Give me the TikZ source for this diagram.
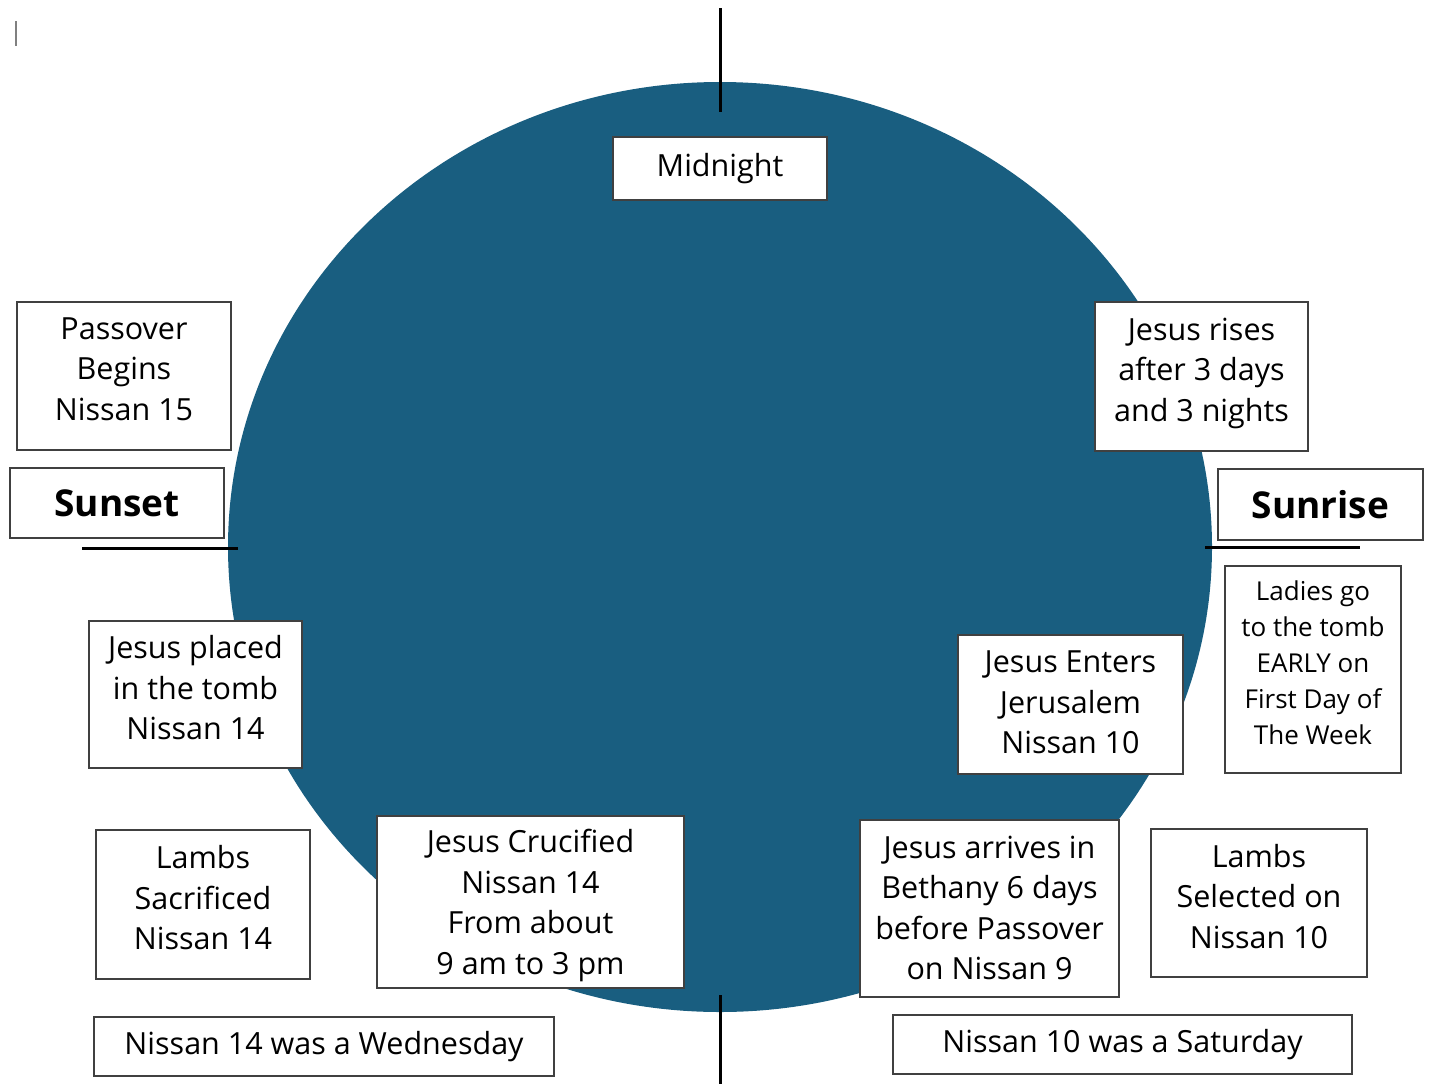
\documentclass[tikz,border=0pt]{standalone}
\usepackage{fontspec}
\setmainfont{Open Sans}
\usepackage{tikz}
\definecolor{dawnblue}{RGB}{25,94,128}
\tikzset{
  box/.style={draw=black!75, fill=white, line width=1.3pt, align=center, inner sep=0pt,
    font=\fontsize{30.5}{40.5}\selectfont},
  lines/.style={box, text depth=14pt},
  bigbox/.style={box, font=\fontsize{37}{40}\selectfont\bfseries},
  tick/.style={line width=3pt, black}
}
\begin{document}
\begin{tikzpicture}[x=1pt, y=-1pt]
\useasboundingbox (0,0) rectangle (1429,1084);
\fill[dawnblue] (720,547) ellipse [x radius=492, y radius=465];
\draw[gray, line width=1.2pt] (16,21) -- (16,46);
\coordinate (topA) at (720,8);
\coordinate (topB) at (720,112);
\coordinate (botA) at (720,995);
\coordinate (botB) at (720,1084);
\coordinate (setA) at (82,548);
\coordinate (setB) at (238,548);
\coordinate (riseA) at (1205,547);
\coordinate (riseB) at (1360,547);
\draw[tick] (topA) -- (topB);
\draw[tick] (botA) -- (botB);
\draw[tick] (setA) -- (setB);
\draw[tick] (riseA) -- (riseB);
\node[box, minimum width=214, minimum height=63] (midnight) at (720,168.5) {Midnight};
\node[lines, minimum width=214, minimum height=148] (passover) at (124,376) {Passover\\Begins\\Nissan 15};
\node[lines, minimum width=213, minimum height=149] (rises) at (1201.5,376.5) {Jesus rises\\after 3 days\\and 3 nights};
\node[bigbox, minimum width=214, minimum height=70] (sunset) at (117,503) {Sunset};
\node[bigbox, minimum width=205, minimum height=71] (sunrise) at (1320.5,504.5) {Sunrise};
\node[lines, minimum width=176, minimum height=207, font=\fontsize{26}{36}\selectfont] (ladies) at (1313,669.5) {Ladies go\\to the tomb\\EARLY on\\First Day of\\The Week};
\node[lines, minimum width=213, minimum height=147] (placed) at (195.5,694.5) {Jesus placed\\in the tomb\\Nissan 14};
\node[lines, minimum width=225, minimum height=139, text depth=4pt] (enters) at (1070.5,704.5) {Jesus Enters\\Jerusalem\\Nissan 10};
\node[lines, minimum width=214, minimum height=149] (sacrificed) at (203,904.5) {Lambs\\Sacrificed\\Nissan 14};
\node[lines, minimum width=307, minimum height=172, text depth=0pt] (crucified) at (530.5,902) {Jesus Crucified\\Nissan 14\\From about\\9 am to 3 pm};
\node[lines, minimum width=259, minimum height=177, text depth=1pt] (bethany) at (989.5,908.5) {Jesus arrives in\\Bethany 6 days\\before Passover\\on Nissan 9};
\node[lines, minimum width=216, minimum height=148] (selected) at (1259,903) {Lambs\\Selected on\\Nissan 10};
\node[box, minimum width=460, minimum height=59] (wednesday) at (324,1046.5) {Nissan 14 was a Wednesday};
\node[box, minimum width=459, minimum height=59] (saturday) at (1122.5,1044.5) {Nissan 10 was a Saturday};
\end{tikzpicture}
\end{document}
